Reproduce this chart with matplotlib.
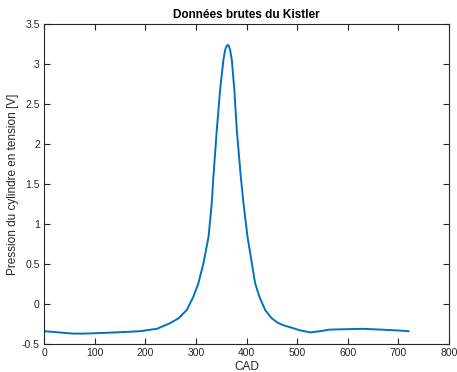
import numpy as np
import matplotlib
matplotlib.use("Agg")
import matplotlib.pyplot as plt

# valeurs (CAD, tension)
cad = [0, 20, 57, 80, 124, 160, 190, 223, 249, 265.5, 282, 295, 305, 315, 325,
       331.4, 334.6, 341.3, 347.8, 354.4, 357.7, 360.5, 363, 365.5, 367.6, 371,
       376, 380.8, 388.7, 394, 402, 410.5, 417, 425.5, 436.8, 450, 463, 475,
       486, 506, 526, 545, 565, 598, 630, 664, 697, 720]
tension = [-0.34, -0.35, -0.37, -0.37, -0.36, -0.35, -0.34, -0.31, -0.24, -0.18,
           -0.075, 0.09, 0.26, 0.51, 0.84, 1.26, 1.59, 2.175, 2.675, 3.05, 3.175,
           3.22, 3.24, 3.22, 3.175, 3.05, 2.675, 2.175, 1.59, 1.26, 0.84, 0.51,
           0.26, 0.09, -0.075, -0.18, -0.24, -0.27, -0.29, -0.33, -0.355, -0.34,
           -0.32, -0.315, -0.31, -0.32, -0.33, -0.34]

plt.rcParams['font.family'] = ['Liberation Sans', 'DejaVu Sans']
plt.rcParams['axes.unicode_minus'] = False

fig = plt.figure(figsize=(4.57, 3.72), dpi=100)
ax = fig.add_axes([0.0963, 0.0753, 0.8862, 0.8602])

ax.plot(cad, tension, color='#0072BD', linewidth=1.4)

ax.set_xlim(0, 800)
ax.set_ylim(-0.5, 3.5)
ax.set_xticks(np.arange(0, 801, 100))
ax.set_yticks(np.arange(-0.5, 3.51, 0.5))
ax.set_yticklabels(['-0.5', '0', '0.5', '1', '1.5', '2', '2.5', '3', '3.5'])

gris = '#262626'
for s in ax.spines.values():
    s.set_color(gris)
    s.set_linewidth(0.8)
ax.tick_params(direction='in', top=True, right=True, length=4, width=0.8,
               colors=gris, labelsize=7.5, pad=3)

ax.set_xlabel("CAD", fontsize=8.5, color=gris, labelpad=2)
ax.set_ylabel("Pression du cylindre en tension [V]", fontsize=8.5, color=gris, labelpad=2)
ax.set_title("Données brutes du Kistler", fontsize=8.5, fontweight='bold', pad=4)

fig.savefig("out.png", dpi=100)
